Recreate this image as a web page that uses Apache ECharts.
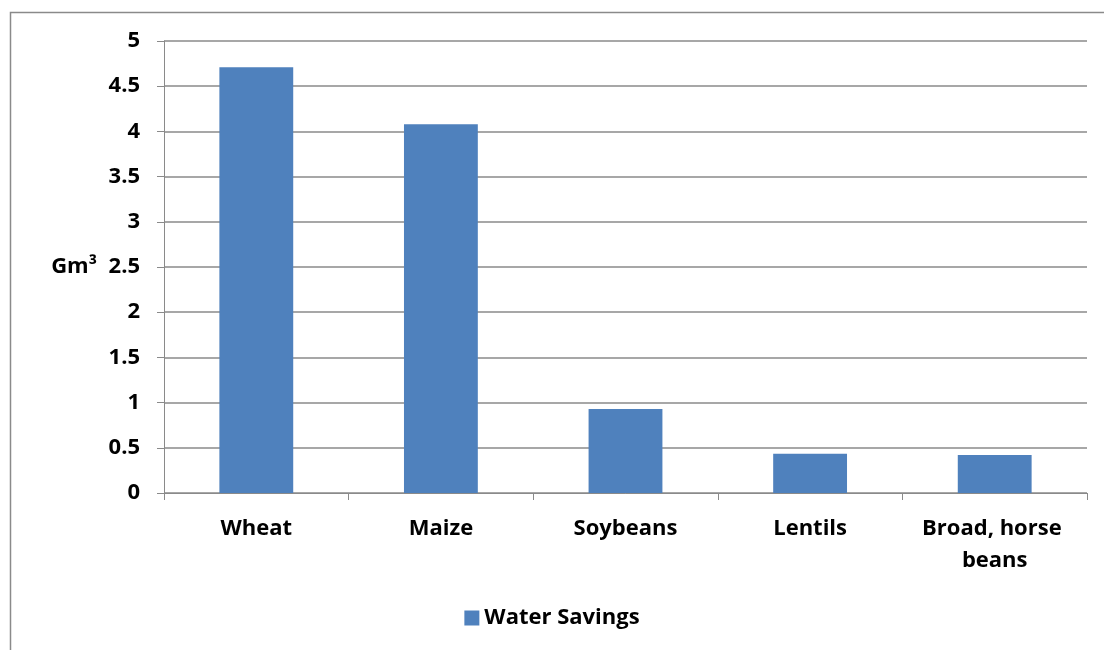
<!DOCTYPE html>
<html>
<head>
<meta charset="utf-8">
<script src="https://cdn.jsdelivr.net/npm/echarts@6/dist/echarts.min.js"></script>
<style>
  html, body { margin: 0; padding: 0; background: #ffffff; }
  #chart { width: 1104px; height: 650px; }
</style>
</head>
<body>
<div id="chart"></div>
<script>
// Crops and the water saved for each (Gm³)
const categories = ['Wheat', 'Maize', 'Soybeans', 'Lentils', 'Broad, horse beans'];
const waterSavings = [4.71, 4.08, 0.93, 0.435, 0.42];
const seriesName = 'Water Savings';
const unitLabel = 'Gm³';

const FONT = '"Open Sans", "Liberation Sans", sans-serif';
const GRAY = '#8a8a8a';
const FS = 22;

const chart = echarts.init(document.getElementById('chart'), null, { renderer: 'canvas' });

chart.setOption({
  backgroundColor: '#ffffff',
  animation: false,
  graphic: [{
    // outer chart frame
    type: 'rect',
    left: 8, top: 10,
    shape: { width: 1200, height: 700 },
    style: { fill: 'none', stroke: GRAY, lineWidth: 1.5 },
    silent: true
  }],
  grid: { left: 164, right: 17, top: 41, bottom: 157, containLabel: false },
  legend: {
    bottom: 16,
    left: 'center',
    icon: 'rect',
    itemWidth: 15,
    itemHeight: 15,
    textStyle: { fontFamily: FONT, fontWeight: 'bold', fontSize: FS, color: '#000' },
    data: [seriesName]
  },
  xAxis: {
    type: 'category',
    data: categories,
    boundaryGap: true,
    axisLine: { show: true, lineStyle: { color: GRAY, width: 1 } },
    axisTick: { show: true, length: 7, alignWithLabel: false, lineStyle: { color: GRAY } },
    axisLabel: {
      interval: 0,
      margin: 20,
      width: 160,
      overflow: 'break',
      lineHeight: 32,
      fontFamily: FONT, fontWeight: 'bold', fontSize: FS, color: '#000'
    },
    splitLine: { show: false }
  },
  yAxis: {
    type: 'value',
    min: 0, max: 5, interval: 0.5,
    name: unitLabel,
    nameLocation: 'middle',
    nameRotate: 0,
    nameGap: 67,
    nameTextStyle: { fontFamily: FONT, fontWeight: 'bold', fontSize: FS, color: '#000', align: 'right', verticalAlign: 'middle' },
    axisLine: { show: true, lineStyle: { color: GRAY, width: 1 } },
    axisTick: { show: true, length: 7, lineStyle: { color: GRAY } },
    axisLabel: { margin: 24, fontFamily: FONT, fontWeight: 'bold', fontSize: FS, color: '#000' },
    splitLine: { show: true, lineStyle: { color: GRAY, width: 1.5 } }
  },
  series: [{
    name: seriesName,
    type: 'bar',
    data: waterSavings,
    barWidth: '40%',
    itemStyle: { color: '#4f81bd' }
  }]
});
</script>
</body>
</html>
